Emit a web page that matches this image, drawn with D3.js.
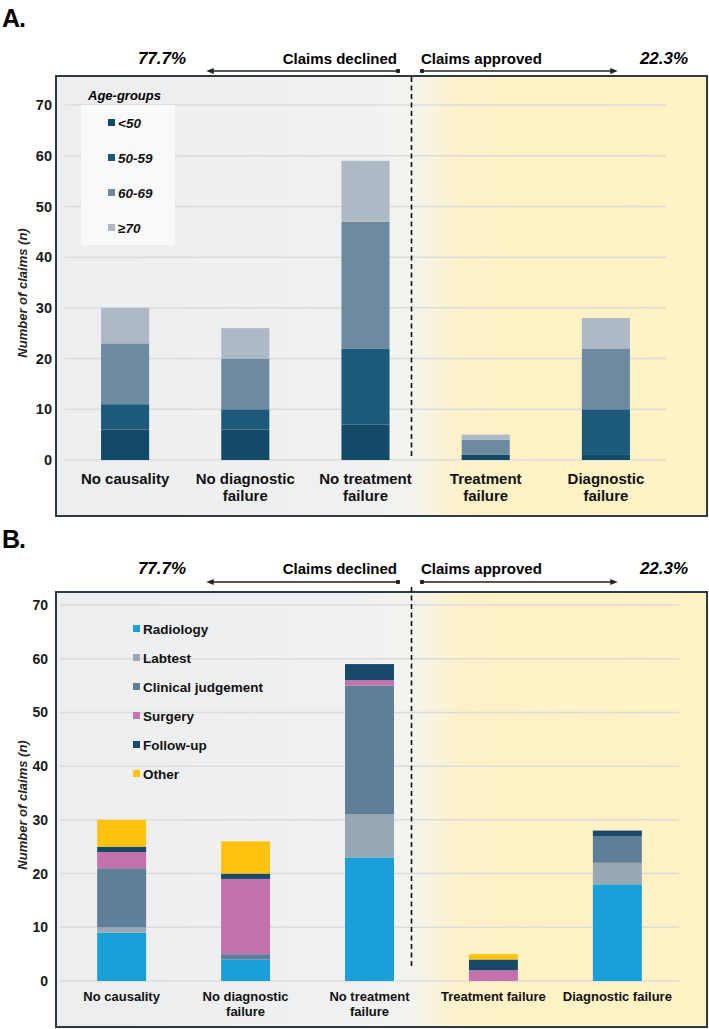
<!DOCTYPE html>
<meta charset="UTF-8">
<style>
body { margin: 0; background: #fff; }
svg { font-family: "Liberation Sans", Arial, sans-serif; }
.tick text { font-weight: bold; fill: #1a1a1a; }
</style>
<svg width="709" height="1029"></svg>
<script src="https://d3js.org/d3.v7.min.js"></script>
<script>
// categories
var categories = ["No causality", "No diagnostic failure", "No treatment failure", "Treatment failure", "Diagnostic failure"];
var labelLinesA = [["No causality"], ["No diagnostic", "failure"], ["No treatment", "failure"], ["Treatment", "failure"], ["Diagnostic", "failure"]];
var labelLinesB = [["No causality"], ["No diagnostic", "failure"], ["No treatment", "failure"], ["Treatment failure"], ["Diagnostic failure"]];
var yTicks = [0, 10, 20, 30, 40, 50, 60, 70];

// panel A: age groups
var ageGroups = ["<50", "50-59", "60-69", "≥70"];
var ageLt50 = [6, 6, 7, 1, 1];
var age5059 = [5, 4, 15, 0, 9];
var age6069 = [12, 10, 25, 3, 12];
var age70plus = [7, 6, 12, 1, 6];
var ageColors = ["#134a67", "#1b5a7a", "#6e8aa0", "#adbac6"];

// panel B: error types
var errorTypes = ["Radiology", "Labtest", "Clinical judgement", "Surgery", "Follow-up", "Other"];
var radiology = [9, 4, 23, 0, 18];
var labtest = [1, 0, 8, 0, 4];
var clinical = [11, 1, 24, 0, 5];
var surgery = [3, 14, 1, 2, 0];
var followUp = [1, 1, 3, 2, 1];
var other = [5, 6, 0, 1, 0];
var errorColors = ["#1a9fd8", "#97a7b4", "#5f7f98", "#c471ae", "#164a68", "#ffc20e"];

var header = { declined: "Claims declined", approved: "Claims approved", pctDeclined: "77.7%", pctApproved: "22.3%" };

function toRows(keys, series) {
    return categories.map((c, i) => {
        var r = { cat: c };
        keys.forEach((k, j) => r[k] = series[j][i]);
        return r;
    });
}

var svg = d3.select("svg");

var defs = svg.append("defs");
var grad = defs.append("linearGradient").attr("id", "bg").attr("x1", "0").attr("x2", "1").attr("y1", "0").attr("y2", "0");
[[0, "#edeef0"], [0.46, "#eff0f1"], [0.545, "#f4f3ef"], [0.625, "#fef1c7"], [1, "#fff2c4"]].forEach(s => {
    grad.append("stop").attr("offset", s[0]).attr("stop-color", s[1]);
});
["arrowL", "arrowR"].forEach(id => {
    defs.append("marker").attr("id", id)
        .attr("viewBox", "0 0 10 10").attr("refX", 5).attr("refY", 5)
        .attr("markerWidth", 5).attr("markerHeight", 5).attr("orient", "auto-start-reverse")
        .append("path").attr("d", "M0,1L10,5L0,9z").attr("fill", "#222");
});
defs.append("marker").attr("id", "dot")
    .attr("viewBox", "0 0 10 10").attr("refX", 5).attr("refY", 5)
    .attr("markerWidth", 3).attr("markerHeight", 3)
    .append("circle").attr("cx", 5).attr("cy", 5).attr("r", 5).attr("fill", "#222");

function drawPanel(p) {
    var g = svg.append("g");

    g.append("text").attr("x", 2).attr("y", p.letterY).text(p.letter)
        .style("font-size", "25px").style("font-weight", "bold").attr("textLength", 24);

    // header
    g.append("text").attr("x", p.pctLX).attr("y", p.headY).text(header.pctDeclined)
        .style("font-size", "17px").style("font-weight", "bold").style("font-style", "italic").attr("text-anchor", "middle");
    g.append("text").attr("x", 397).attr("y", p.headY).text(header.declined)
        .style("font-size", "15px").style("font-weight", "bold").attr("text-anchor", "end");
    g.append("text").attr("x", 421).attr("y", p.headY).text(header.approved)
        .style("font-size", "15px").style("font-weight", "bold");
    g.append("text").attr("x", 664).attr("y", p.headY).text(header.pctApproved)
        .style("font-size", "17px").style("font-weight", "bold").style("font-style", "italic").attr("text-anchor", "middle");

    g.append("line").attr("x1", 398).attr("x2", 210).attr("y1", p.arrowY).attr("y2", p.arrowY)
        .attr("stroke", "#222").attr("stroke-width", 1.5)
        .attr("marker-start", "url(#dot)").attr("marker-end", "url(#arrowL)");
    g.append("line").attr("x1", 422).attr("x2", 614).attr("y1", p.arrowY).attr("y2", p.arrowY)
        .attr("stroke", "#222").attr("stroke-width", 1.5)
        .attr("marker-start", "url(#dot)").attr("marker-end", "url(#arrowR)");

    // frame
    g.append("rect").attr("x", p.box.x).attr("y", p.box.y).attr("width", p.box.w).attr("height", p.box.h)
        .attr("fill", "url(#bg)").attr("stroke", "#2e3b47").attr("stroke-width", 2);

    var y = d3.scaleLinear().domain([0, 70]).range([p.y0, p.y70]);
    var x = d3.scaleBand().domain(categories).range(p.xRange).paddingInner(p.padIn).paddingOuter(0.3);

    // grid
    g.append("g").selectAll("line").data(yTicks).join("line")
        .attr("x1", p.xRange[0]).attr("x2", p.xRange[1])
        .attr("y1", d => y(d)).attr("y2", d => y(d))
        .attr("stroke", "#dcdcdc").attr("stroke-width", 1.5);

    var ax = g.append("g").attr("transform", "translate(" + p.tickX + ",0)")
        .call(d3.axisLeft(y).tickValues(yTicks).tickSize(0).tickPadding(0));
    ax.select(".domain").remove();
    ax.selectAll("text").style("font-size", p.tickSize + "px").style("font-family", "Liberation Sans, Arial");

    g.append("text").attr("transform", "translate(27," + p.titleY + ") rotate(-90)")
        .attr("text-anchor", "middle").text("Number of claims (n)")
        .style("font-size", "13px").style("font-style", "italic").style("font-weight", "bold").attr("fill", "#222");

    // legend box (A only)
    if (p.legendBox) {
        g.append("rect").attr("x", p.legendBox.x).attr("y", p.legendBox.y)
            .attr("width", p.legendBox.w).attr("height", p.legendBox.h).attr("fill", "#f9f9f9");
    }

    // bars
    var stack = d3.stack().keys(p.keys)(p.rows);
    g.append("g").selectAll("g").data(stack).join("g")
        .attr("fill", (d, i) => p.colors[i])
        .selectAll("rect").data(d => d).join("rect")
        .attr("x", d => x(d.data.cat))
        .attr("width", x.bandwidth())
        .attr("y", d => y(d[1]))
        .attr("height", d => y(d[0]) - y(d[1]));

    // dashed split
    g.append("line").attr("x1", 411.5).attr("x2", 411.5).attr("y1", p.dashY[0]).attr("y2", p.dashY[1])
        .attr("stroke", "#111").attr("stroke-width", 1.6).attr("stroke-dasharray", "5,3.5");

    // x labels
    var xl = g.append("g").selectAll("text").data(categories).join("text")
        .attr("x", d => x(d) + x.bandwidth() / 2).attr("y", p.labelY)
        .attr("text-anchor", "middle").style("font-size", p.labelSize + "px").style("font-weight", "bold").attr("fill", "#111");
    xl.each(function (d, i) {
        d3.select(this).selectAll("tspan").data(p.labelLines[i]).join("tspan")
            .attr("x", x(d) + x.bandwidth() / 2).attr("dy", (t, j) => j ? p.labelGap : 0).text(t => t);
    });

    // legend
    if (p.legendTitle) {
        g.append("text").attr("x", p.legendTitle.x).attr("y", p.legendTitle.y).text(p.legendTitle.text)
            .style("font-size", "13px").style("font-weight", "bold").style("font-style", "italic");
    }
    var lg = g.append("g").selectAll("g").data(p.keys).join("g")
        .attr("transform", (d, i) => "translate(" + p.legend.x + "," + (p.legend.y + i * p.legend.dy) + ")");
    lg.append("rect").attr("x", 0).attr("y", -4).attr("width", 7).attr("height", 7).attr("fill", (d, i) => p.colors[i]);
    lg.append("text").attr("x", 10).attr("y", 4.5).text(d => d)
        .style("font-size", "13.5px").style("font-weight", "bold").style("font-style", p.legend.italic ? "italic" : "normal").attr("fill", "#111");
}

drawPanel({
    letter: "A.", letterY: 27, headY: 64, pctLX: 162, arrowY: 71,
    box: { x: 56, y: 76, w: 651, h: 440 },
    y0: 460, y70: 105, xRange: [65, 666], padIn: 0.6,
    tickX: 52, tickSize: 14.5, titleY: 293,
    keys: ageGroups, colors: ageColors,
    rows: toRows(ageGroups, [ageLt50, age5059, age6069, age70plus]),
    dashY: [77, 457], labelY: 484, labelSize: 15, labelGap: 17, labelLines: labelLinesA,
    legendBox: { x: 81, y: 105, w: 94, h: 140 },
    legendTitle: { x: 88, y: 100, text: "Age-groups" },
    legend: { x: 108, y: 123, dy: 35, italic: true }
});

drawPanel({
    letter: "B.", letterY: 548, headY: 574, pctLX: 162, arrowY: 582,
    box: { x: 56, y: 592, w: 651, h: 435 },
    y0: 981, y70: 605, xRange: [60, 679], padIn: 0.605,
    tickX: 48, tickSize: 14, titleY: 805,
    keys: errorTypes, colors: errorColors,
    rows: toRows(errorTypes, [radiology, labtest, clinical, surgery, followUp, other]),
    dashY: [587, 967], labelY: 1001, labelSize: 13, labelGap: 15, labelLines: labelLinesB,
    legend: { x: 133, y: 629, dy: 29, italic: false }
});
</script>
